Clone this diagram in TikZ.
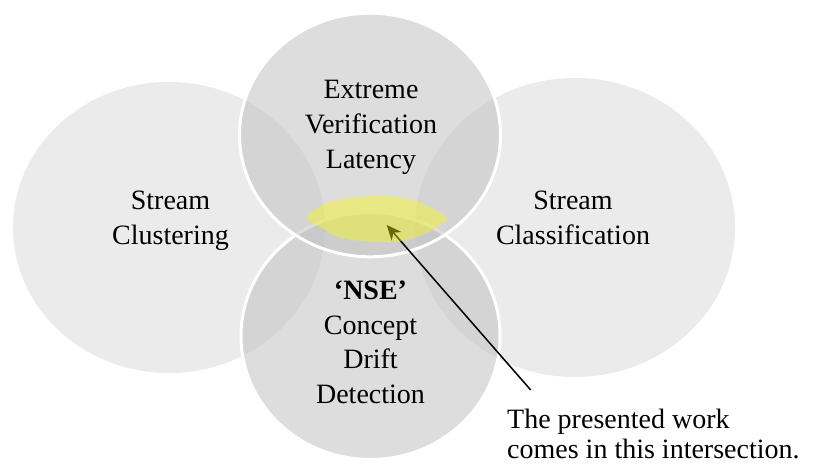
\documentclass[tikz,border=0pt]{standalone}
\usepackage{fontspec}
\setmainfont{Liberation Serif}
\usetikzlibrary{arrows.meta}
\definecolor{sidefill}{HTML}{EBEBEB}
\definecolor{midfill}{gray}{0.75}
\definecolor{spotfill}{rgb}{0.976,0.976,0.05}
\begin{document}
\begin{tikzpicture}[x=1pt,y=-1pt,
  side/.style={fill=sidefill, draw=none},
  mid/.style={fill=midfill, fill opacity=0.52, draw=white, line width=3pt},
  lbl/.style={inner sep=0pt, align=center, font=\fontsize{28}{35}\selectfont},
  note/.style={inner sep=0pt, align=left, font=\fontsize{28}{30}\selectfont},
  pointer/.style={-{Stealth[length=15pt,width=13pt]}, line width=1.5pt},
  spot/.style={fill=spotfill, fill opacity=0.42, draw=none}]
\useasboundingbox (0,0) rectangle (813,465);
\fill[white] (0,0) rectangle (813,465);

% the two outer fields
\path[side] (169,227.5) ellipse [x radius=156, y radius=145.5];
\path[side] (575,227.5) ellipse [x radius=160, y radius=149.5];

% the two central fields, with white rims
\path[mid] (370.5,336) ellipse [x radius=129.5, y radius=123.5];
\path[mid] (370,135) ellipse [x radius=130.5, y radius=121.8];

% pointer to the common intersection
\coordinate (tail) at (530.7,390);
\coordinate (tip) at (386.7,225);
\draw[pointer] (tail) -- (tip);

% highlighted intersection
\fill[spot] plot[smooth cycle, tension=0.6] coordinates {
  (307,219) (315,210) (328,203) (345,199) (362,197) (385,196) (412,200)
  (432,208) (447,218) (442,224) (422,235) (395,242) (362,241) (338,237)
  (322,228)};

% labels
\node[lbl] (latency) at (371,127.5) {Extreme\\Verification\\Latency};
\node[lbl] (clustering) at (170.5,220.6) {Stream\\Clustering};
\node[lbl] (classification) at (573,217.6) {Stream\\Classification};
\node[lbl, font=\fontsize{28}{34.5}\selectfont] (drift) at (370.5,342.3)
  {\textbf{‘NSE’}\\Concept\\Drift\\Detection};
\node[note, anchor=west] (presented) at (507,433.5)
  {The presented work\\comes in this intersection.};
\end{tikzpicture}
\end{document}
